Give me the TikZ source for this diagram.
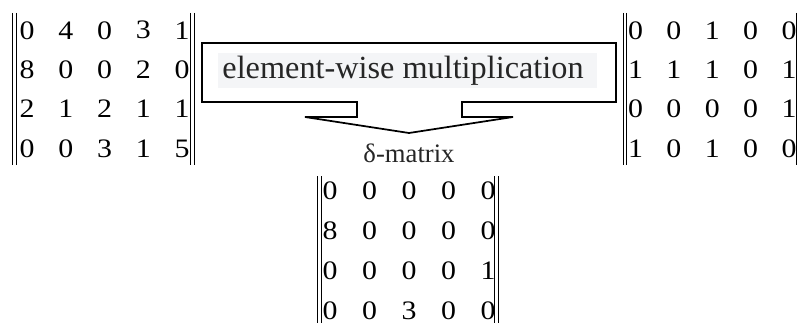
\documentclass[tikz,border=0pt]{standalone}
\usepackage{fontspec}
\setmainfont{Liberation Serif}
\newfontfamily\digitfont[FakeStretch=1.12]{Liberation Serif}
\begin{document}
\begin{tikzpicture}[x=0.75pt,y=-0.75pt,
  digit/.style={inner sep=0pt,font=\digitfont\fontsize{20}{22}\selectfont,text=black},
  bar/.style={line width=0.7pt,black},
  callout/.style={line width=1.3pt,black,line join=miter}]
\useasboundingbox (0,0) rectangle (798,323);
\clip (0,0) rectangle (798,323);
% left matrix
\foreach \r/\y/\vals in {1/30.3/{0,4,0,3,1},2/69.5/{8,0,0,2,0},3/109/{2,1,2,1,1},4/148.5/{0,0,3,1,5}}{
  \foreach \v [count=\c] in \vals {
    \pgfmathsetmacro{\xx}{27+38.8*(\c-1)}
    \node[digit] (A-\r-\c) at (\xx,\y) {\v};
  }
}
% right matrix
\foreach \r/\y/\vals in {1/30.3/{0,0,1,0,0},2/69.5/{1,1,1,0,1},3/109/{0,0,0,0,1},4/148.5/{1,0,1,0,0}}{
  \foreach \v [count=\c] in \vals {
    \pgfmathsetmacro{\xx}{635.5+38.4*(\c-1)}
    \node[digit] (B-\r-\c) at (\xx,\y) {\v};
  }
}
% result matrix
\foreach \r/\y/\vals in {1/191/{0,0,0,0,0},2/231/{8,0,0,0,0},3/270.5/{0,0,0,0,1},4/310.5/{0,0,3,0,0}}{
  \foreach \v [count=\c] in \vals {
    \pgfmathsetmacro{\xx}{330+39.5*(\c-1)}
    \node[digit] (C-\r-\c) at (\xx,\y) {\v};
  }
}
% bars
\foreach \x in {12.5,16,190.5,194}{\draw[bar] (\x,13) -- (\x,165);}
\foreach \x in {623,626.5,796,800}{\draw[bar] (\x,13) -- (\x,165);}
\foreach \x in {317.5,321,494.5,498}{\draw[bar] (\x,176.5) -- (\x,330);}
% callout arrow
\draw[callout] (202,43) -- (616,43) -- (616,102) -- (462,102) -- (462,117) -- (513,117)
  -- (409,133) -- (305,117) -- (357,117) -- (357,102) -- (202,102) -- cycle;
\fill[fill={rgb,255:red,244;green,245;blue,247}] (218,53) rectangle (597,88);
\node[inner sep=0pt,font=\fontsize{24.2}{26}\selectfont,text=black!85] (op) at (403,70.5) {element-wise multiplication};
\node[inner sep=0pt,font=\fontsize{20}{22}\selectfont,text=black!85] (lbl) at (409,153) {δ-matrix};
\end{tikzpicture}
\end{document}
